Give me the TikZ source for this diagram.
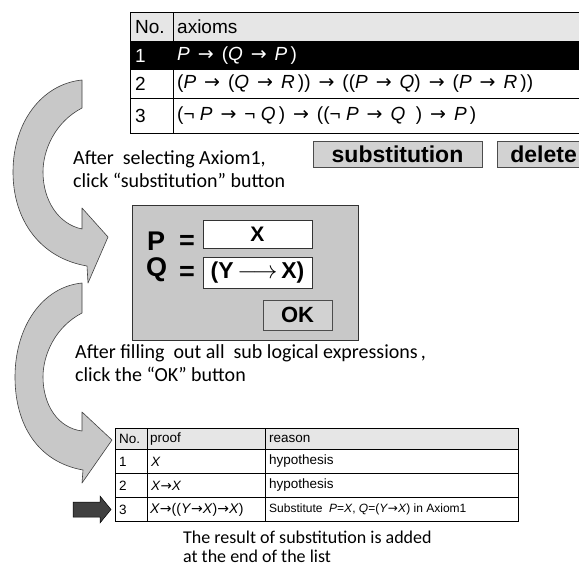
\documentclass[tikz,border=0pt]{standalone}
\usepackage{fontspec}
\setmainfont{Liberation Sans}
\newfontfamily\calfont{Carlito}
\newfontfamily\arrowfont{DejaVu Sans}
\newcommand\ar{{\arrowfont →}}
\newcommand\sar{\hspace{0.42em}{\arrowfont →}\hspace{0.42em}}
\definecolor{hdr}{HTML}{E6E6E6}
\definecolor{dlg}{HTML}{C8C8C8}
\definecolor{btn}{HTML}{D2D2D2}
\definecolor{arrfill}{HTML}{C8C8C8}
\definecolor{dark}{HTML}{404040}
\tikzset{
  cell/.style={anchor=west, inner sep=0pt, font=\fontsize{19}{22}\selectfont},
  bcell/.style={anchor=west, inner sep=0pt, font=\fontsize{13.5}{16}\selectfont},
  expl/.style={anchor=west, align=left, inner sep=0pt, font=\calfont\fontsize{20}{23}\selectfont},
  button/.style={draw=gray!60!black, fill=btn, line width=0.8pt, inner sep=0pt, font=\bfseries\fontsize{23}{23}\selectfont},
  field/.style={draw=black!80, fill=white, line width=0.8pt, inner sep=0pt, minimum width=109pt, minimum height=28pt, font=\bfseries\fontsize{21}{21}\selectfont},
  big/.style={anchor=west, inner sep=0pt, font=\bfseries\fontsize{27}{27}\selectfont},
  carrow/.style={draw=black!75, fill=arrfill, line width=0.6pt, line join=round},
  grid/.style={draw=black, line width=0.8pt}
}
\begin{document}
\begin{tikzpicture}[x=1pt,y=-1pt]
\clip (0,0) rectangle (579,568);
\fill[white] (0,0) rectangle (579,568);
% ---------- top table ----------
\fill[hdr] (130,12) rectangle (600,41);
\fill[black] (130,41) rectangle (600,69);
\draw[grid] (130,12) rectangle (600,133);
\draw[grid] (130,41) -- (600,41) (130,69) -- (600,69) (130,98) -- (600,98);
\draw[grid] (173,12) -- (173,41) (173,69) -- (173,133);
\node[cell] (tn) at (135,27) {No.};
\node[cell] (tax) at (177,27) {axioms};
\node[cell,text=white] (t1n) at (135,55.5) {1};
\node[cell,text=white] (t1) at (177,55.5) {\textit{P}\sar(\textit{Q}\sar\textit{P}\,)};
\node[cell] (t2n) at (135,84) {2};
\node[cell] (t2) at (177,84) {(\textit{P}\sar(\textit{Q}\sar\textit{R}\,))\sar((\textit{P}\sar\textit{Q})\sar(\textit{P}\sar\textit{R}\,))};
\node[cell] (t3n) at (135,115.5) {3};
\node[cell] (t3) at (177,115.5) {(¬ \textit{P}\sar¬ \textit{Q}\,)\sar((¬ \textit{P}\sar\textit{Q}~ )\sar\textit{P}\,)};
% ---------- buttons ----------
\node[button, minimum width=169pt, minimum height=26pt] (subst) at (397.5,154) {substitution};
\node[button, minimum width=100pt, minimum height=26pt, anchor=west, text width=90pt, align=left] (del) at (497,154) {\hspace*{8pt}delete};
% ---------- explanation 1 ----------
\node[expl] (ex1) at (73,169) {After~ selecting Axiom1,\\click “substitution” button};
% ---------- dialog ----------
\node[draw=black!80, fill=dlg, line width=0.8pt, minimum width=226pt, minimum height=135pt, inner sep=0pt] (dlg) at (245,272.5) {};
\node[field] (px) at (257.5,234) {X};
\node[field, minimum height=31pt] (qx) at (257.5,272.5) {\raisebox{-4pt}{\fontsize{23}{23}\selectfont(Y\,$\longrightarrow$\,X)}};
\node[big] (pl) at (147,241) {P};
\node[big] (pe) at (179,242) {=};
\node[big] (ql) at (146,270) {Q};
\node[big] (qe) at (179,273) {=};
\node[button, minimum width=69pt, minimum height=30pt, font=\bfseries\fontsize{22}{22}\selectfont] (ok) at (297.5,315) {OK};
% ---------- explanation 2 ----------
\node[expl] (ex2) at (75,363) {After filling~ out all~ sub logical expressions\,,\\click the “OK” button};
% ---------- bottom table ----------
\fill[hdr] (115,428) rectangle (518,449);
\draw[grid] (115,428) rectangle (518,521);
\draw[grid] (115,449) -- (518,449) (115,473) -- (518,473) (115,497) -- (518,497);
\draw[grid] (147,428) -- (147,521) (265,428) -- (265,521);
\node[bcell] (bn) at (119,439) {No.};
\node[bcell] (bp) at (150,439) {proof};
\node[bcell] (br) at (269,439) {reason};
\node[bcell] (b1n) at (119,461.5) {1};
\node[bcell] (b1p) at (151,461.5) {\textit{X}};
\node[bcell] (b1r) at (269,461.5) {hypothesis};
\node[bcell] (b2n) at (119,485.5) {2};
\node[bcell] (b2p) at (151,485.5) {\textit{X}\ar\textit{X}};
\node[bcell] (b2r) at (269,485.5) {hypothesis};
\node[bcell] (b3n) at (119,509.5) {3};
\node[bcell, font=\fontsize{14}{16}\selectfont] (b3p) at (150,509.5) {\textit{X}\ar((\textit{Y}\ar\textit{X})\ar\textit{X})};
\node[bcell, font=\fontsize{12}{14}\selectfont] (b3r) at (269,509.5) {Substitute~ \textit{P}=\textit{X}, \textit{Q}=(\textit{Y}\ar\textit{X}) in Axiom1};
% ---------- explanation 3 ----------
\node[expl, font=\calfont\fontsize{18}{19.5}\selectfont] (ex3) at (183,547) {The result of substitution is added\\at the end of the list};
% ---------- curved arrows ----------
\path[carrow] (82,80) -- (82,108) .. controls (55,122) and (43,150) .. (43,172)
  .. controls (43,200) and (58,224) .. (82,229) -- (82,208) -- (108,237) -- (88,283) -- (87,266)
  .. controls (40,258) and (13,220) .. (13,172) .. controls (13,122) and (42,84) .. (82,80) -- cycle;
\path[carrow] (82,283) -- (82,313) .. controls (55,327) and (43,355) .. (43,377)
  .. controls (43,405) and (58,428) .. (82,431) -- (82,412) -- (112,440) -- (82,483) -- (83,470)
  .. controls (38,462) and (15,425) .. (15,377) .. controls (15,327) and (42,287) .. (82,283) -- cycle;
% ---------- dark arrow ----------
\path[fill=dark, draw=black, line width=0.5pt] (73,502) -- (100,502) -- (100,496) -- (111,509.5) -- (100,523) -- (100,517) -- (73,517) -- cycle;
\end{tikzpicture}
\end{document}
